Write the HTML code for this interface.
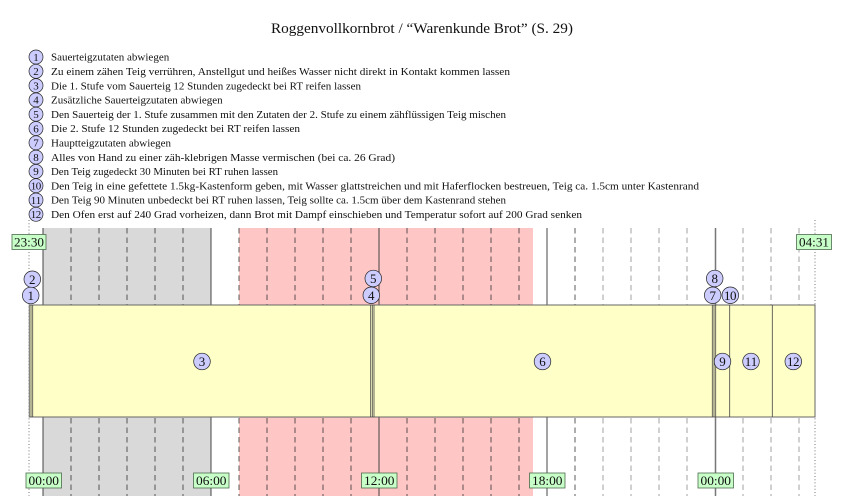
<!DOCTYPE html>
<html><head><meta charset="utf-8"><style>
html,body{margin:0;padding:0;background:#fff;}
svg{display:block;}
text{font-family:"Liberation Serif",serif;fill:#111;}
</style></head><body>
<svg width="844" height="496" viewBox="0 0 844 496" xmlns="http://www.w3.org/2000/svg">
<rect width="844" height="496" fill="#fff"/>
<!-- Title -->
<text x="271" y="33" font-size="14.5" textLength="302" lengthAdjust="spacingAndGlyphs">Roggenvollkornbrot / “Warenkunde Brot” (S. 29)</text>

<!-- Legend -->
<g stroke="#222" stroke-width="0.7" fill="#ccccff">
<circle cx="36" cy="57" r="7"/><circle cx="36" cy="71.3" r="7"/><circle cx="36" cy="85.6" r="7"/><circle cx="36" cy="99.9" r="7"/>
<circle cx="36" cy="114.2" r="7"/><circle cx="36" cy="128.5" r="7"/><circle cx="36" cy="142.8" r="7"/><circle cx="36" cy="157.1" r="7"/>
<circle cx="36" cy="171.4" r="7"/><circle cx="36" cy="185.7" r="7"/><circle cx="36" cy="200" r="7"/><circle cx="36" cy="214.3" r="7"/>
</g>
<g font-size="11" text-anchor="middle">
<text x="36" y="60.8">1</text><text x="36" y="75.1">2</text><text x="36" y="89.4">3</text><text x="36" y="103.7">4</text>
<text x="36" y="118">5</text><text x="36" y="132.3">6</text><text x="36" y="146.6">7</text><text x="36" y="160.9">8</text>
<text x="36" y="175.2">9</text>
<text x="36" y="189.5" textLength="10.5">10</text>
<text x="36" y="203.8" textLength="10.5">11</text>
<text x="36" y="218.1" textLength="10.5">12</text>
</g>
<g font-size="11">
<text x="51" y="60.7">Sauerteigzutaten abwiegen</text>
<text x="51" y="75" textLength="459" lengthAdjust="spacingAndGlyphs">Zu einem zähen Teig verrühren, Anstellgut und heißes Wasser nicht direkt in Kontakt kommen lassen</text>
<text x="51" y="89.3" textLength="310" lengthAdjust="spacingAndGlyphs">Die 1. Stufe vom Sauerteig 12 Stunden zugedeckt bei RT reifen lassen</text>
<text x="51" y="103.6">Zusätzliche Sauerteigzutaten abwiegen</text>
<text x="51" y="117.9" textLength="455" lengthAdjust="spacingAndGlyphs">Den Sauerteig der 1. Stufe zusammen mit den Zutaten der 2. Stufe zu einem zähflüssigen Teig mischen</text>
<text x="51" y="132.2" textLength="249" lengthAdjust="spacingAndGlyphs">Die 2. Stufe 12 Stunden zugedeckt bei RT reifen lassen</text>
<text x="51" y="146.5">Hauptteigzutaten abwiegen</text>
<text x="51" y="160.8" textLength="344" lengthAdjust="spacingAndGlyphs">Alles von Hand zu einer zäh-klebrigen Masse vermischen (bei ca. 26 Grad)</text>
<text x="51" y="175.1" textLength="227" lengthAdjust="spacingAndGlyphs">Den Teig zugedeckt 30 Minuten bei RT ruhen lassen</text>
<text x="51" y="189.4" textLength="648" lengthAdjust="spacingAndGlyphs">Den Teig in eine gefettete 1.5kg-Kastenform geben, mit Wasser glattstreichen und mit Haferflocken bestreuen, Teig ca. 1.5cm unter Kastenrand</text>
<text x="51" y="203.7" textLength="455" lengthAdjust="spacingAndGlyphs">Den Teig 90 Minuten unbedeckt bei RT ruhen lassen, Teig sollte ca. 1.5cm über dem Kastenrand stehen</text>
<text x="51" y="218" textLength="531" lengthAdjust="spacingAndGlyphs">Den Ofen erst auf 240 Grad vorheizen, dann Brot mit Dampf einschieben und Temperatur sofort auf 200 Grad senken</text>
</g>

<!-- Regions -->
<rect x="43" y="228" width="168" height="268" fill="#d9d9d9"/>
<rect x="239" y="228" width="294" height="268" fill="#ffc6c6"/>

<!-- Hour lines -->
<g stroke="#333" stroke-width="0.8" stroke-dasharray="5.5 4">
<line x1="71" y1="228" x2="71" y2="496"/><line x1="99" y1="228" x2="99" y2="496"/><line x1="127" y1="228" x2="127" y2="496"/>
<line x1="155" y1="228" x2="155" y2="496"/><line x1="183" y1="228" x2="183" y2="496"/>
<line x1="239" y1="228" x2="239" y2="496"/><line x1="267" y1="228" x2="267" y2="496"/><line x1="295" y1="228" x2="295" y2="496"/>
<line x1="323" y1="228" x2="323" y2="496"/><line x1="351" y1="228" x2="351" y2="496"/>
<line x1="407" y1="228" x2="407" y2="496"/><line x1="435" y1="228" x2="435" y2="496"/><line x1="463" y1="228" x2="463" y2="496"/>
<line x1="491" y1="228" x2="491" y2="496"/><line x1="519" y1="228" x2="519" y2="496"/>
<line x1="575" y1="228" x2="575" y2="496"/>
</g>
<g stroke="#aaa" stroke-width="1.1" stroke-dasharray="5.5 4">
<line x1="603" y1="228" x2="603" y2="496"/><line x1="631" y1="228" x2="631" y2="496"/><line x1="659" y1="228" x2="659" y2="496"/>
<line x1="687" y1="228" x2="687" y2="496"/>
<line x1="743" y1="228" x2="743" y2="496"/><line x1="771" y1="228" x2="771" y2="496"/><line x1="799" y1="228" x2="799" y2="496"/>
</g>
<g stroke="#333" stroke-width="0.9">
<line x1="43" y1="228" x2="43" y2="496"/><line x1="211" y1="228" x2="211" y2="496"/>
<line x1="379" y1="228" x2="379" y2="496"/><line x1="547" y1="228" x2="547" y2="496"/>
</g>
<line x1="715.5" y1="228" x2="715.5" y2="496" stroke="#777" stroke-width="1.5"/>
<g stroke="#555" stroke-width="0.8" stroke-dasharray="1 2.2">
<line x1="29" y1="220" x2="29" y2="496"/><line x1="815" y1="220" x2="815" y2="496"/>
</g>

<!-- Bar -->
<rect x="29.3" y="305" width="785.7" height="112" fill="#ffffc8" stroke="#666" stroke-width="1"/>
<g stroke="#444" stroke-width="0.8">
<line x1="31" y1="305" x2="31" y2="417"/><line x1="32.7" y1="305" x2="32.7" y2="417"/>
<line x1="370.7" y1="305" x2="370.7" y2="417"/><line x1="372.3" y1="305" x2="372.3" y2="417"/><line x1="374" y1="305" x2="374" y2="417"/>
<line x1="712.3" y1="305" x2="712.3" y2="417"/><line x1="714" y1="305" x2="714" y2="417"/><line x1="715.7" y1="305" x2="715.7" y2="417"/>
<line x1="729.7" y1="305" x2="729.7" y2="417"/><line x1="772.3" y1="305" x2="772.3" y2="417"/>
</g>

<!-- Step circles -->
<g stroke="#222" stroke-width="0.7" fill="#ccccff">
<circle cx="32.3" cy="279.3" r="8.3"/><circle cx="30.7" cy="295.5" r="8.3"/>
<circle cx="373.3" cy="278.5" r="8.3"/><circle cx="371.3" cy="295.3" r="8.3"/>
<circle cx="714.7" cy="278.5" r="8.3"/><circle cx="712.7" cy="295.3" r="8.3"/><circle cx="730.3" cy="295.3" r="8.3"/>
<circle cx="202" cy="361.5" r="8.3"/><circle cx="542.5" cy="361.5" r="8.3"/>
<circle cx="722.5" cy="361.5" r="8.3"/><circle cx="751" cy="361.5" r="8.3"/><circle cx="793.3" cy="361.5" r="8.3"/>
</g>
<g font-size="13" text-anchor="middle">
<text x="32.3" y="283.8">2</text><text x="30.7" y="300">1</text>
<text x="373.3" y="283">5</text><text x="371.3" y="299.8">4</text>
<text x="714.7" y="283">8</text><text x="712.7" y="299.8">7</text>
<text x="730.3" y="299.8" textLength="12.5">10</text>
<text x="202" y="366">3</text><text x="542.5" y="366">6</text><text x="722.5" y="366">9</text>
<text x="751" y="366" textLength="12.5">11</text>
<text x="793.3" y="366" textLength="12.5">12</text>
</g>

<!-- Time labels -->
<g fill="#c8ffc8" stroke="#4d6b4d" stroke-width="0.8">
<rect x="12" y="234.5" width="34" height="15"/>
<rect x="796.5" y="234.5" width="35" height="15"/>
<rect x="26" y="473" width="35.5" height="15"/>
<rect x="193.5" y="473" width="35.5" height="15"/>
<rect x="361.5" y="473" width="35.5" height="15"/>
<rect x="529.5" y="473" width="35.5" height="15"/>
<rect x="698" y="473" width="35.5" height="15"/>
</g>
<g font-size="13">
<text x="14" y="246.5" textLength="30" lengthAdjust="spacingAndGlyphs">23:30</text>
<text x="799" y="246.5" textLength="30" lengthAdjust="spacingAndGlyphs">04:31</text>
<text x="28.5" y="485" textLength="30.5" lengthAdjust="spacingAndGlyphs">00:00</text>
<text x="196" y="485" textLength="30.5" lengthAdjust="spacingAndGlyphs">06:00</text>
<text x="364" y="485" textLength="30.5" lengthAdjust="spacingAndGlyphs">12:00</text>
<text x="532" y="485" textLength="30.5" lengthAdjust="spacingAndGlyphs">18:00</text>
<text x="700.5" y="485" textLength="30.5" lengthAdjust="spacingAndGlyphs">00:00</text>
</g>
</svg>
</body></html>
